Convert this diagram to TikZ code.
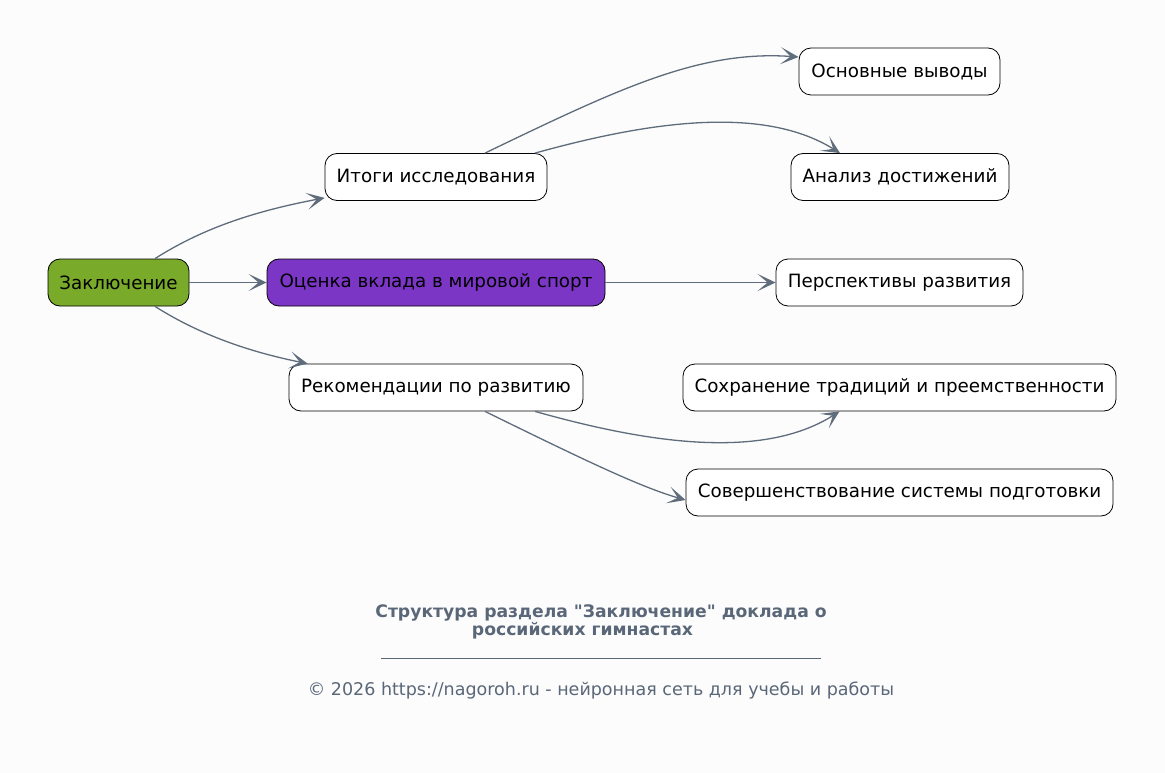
\documentclass[tikz,border=0pt]{standalone}
\usepackage{fontspec}
\setmainfont{DejaVu Sans}[Ligatures=TeXOff]
\usetikzlibrary{arrows.meta}
\definecolor{bg}{HTML}{FCFCFC}
\definecolor{edgec}{HTML}{5F6C7B}
\definecolor{titlec}{HTML}{5A6778}
\definecolor{greenc}{HTML}{79AA2A}
\definecolor{purplec}{HTML}{7B36C6}
\tikzset{
  box/.style={draw=black, line width=0.8pt, rounded corners=12pt, fill=white,
    minimum height=47pt, inner sep=0pt, font=\fontsize{18.3}{21}\selectfont, text=black},
  conn/.style={draw=edgec, line width=1.3pt,
    -{Stealth[length=18pt, width=17pt, inset=10pt]}},
}
\begin{document}
\begin{tikzpicture}[x=1pt, y=-1pt]
\fill[bg] (0,0) rectangle (1165,773);
\useasboundingbox (0,0) rectangle (1165,773);

\node[box, fill=greenc, minimum width=141pt] (root) at (118.5,282.5) {Заключение};
\node[box, fill=purplec, minimum width=338pt] (ocenka) at (436,282.5) {Оценка вклада в мировой спорт};
\node[box, minimum width=222pt] (itogi) at (436,177) {Итоги исследования};
\node[box, minimum width=294pt] (rekom) at (436,387.5) {Рекомендации по развитию};
\node[box, minimum width=201pt] (osn) at (899.5,71.5) {Основные выводы};
\node[box, minimum width=218pt] (analiz) at (900,177) {Анализ достижений};
\node[box, minimum width=247pt] (persp) at (899.5,282.5) {Перспективы развития};
\node[box, minimum width=433pt] (sohr) at (899.5,387.5) {Сохранение традиций и преемственности};
\node[box, minimum width=427pt] (sover) at (899.5,492.5) {Совершенствование системы подготовки};

\draw[conn] ([xshift=36.5pt]root.north) .. controls (200,230) and (250,212) .. ([yshift=3pt]itogi.south west);
\draw[conn] (root.east) -- (ocenka.west);
\draw[conn] ([xshift=36.5pt]root.south) .. controls (200,335) and (250,352) .. ([xshift=19pt]rekom.north west);

\draw[conn] ([xshift=49pt]itogi.north) .. controls (620,88) and (700,50) .. ([yshift=14.5pt]osn.west);
\draw[conn] ([xshift=99pt]itogi.north) .. controls (640,124) and (760,103) .. ([xshift=-60pt]analiz.north);
\draw[conn] (ocenka.east) -- (persp.west);
\draw[conn] ([xshift=99pt]rekom.south) .. controls (640,441) and (760,462) .. ([xshift=-60pt]sohr.south);
\draw[conn] ([xshift=49pt]rekom.south) .. controls (580,458) and (640,487) .. ([yshift=-7.5pt]sover.west);

\node[font=\bfseries\fontsize{17.2}{18}\selectfont, text=titlec, align=center] (title) at (601,621.5)
  {Структура раздела "Заключение" доклада о\\российских гимнастах\hspace*{37pt}};
\coordinate (l1) at (381,658);
\coordinate (l2) at (821,658);
\draw[titlec, line width=0.8pt] (l1) -- (l2);
\node[font=\fontsize{17.5}{20}\selectfont, text=titlec] (foot) at (601,691)
  {© 2026 https://nagoroh.ru - нейронная сеть для учебы и работы};
\end{tikzpicture}
\end{document}
